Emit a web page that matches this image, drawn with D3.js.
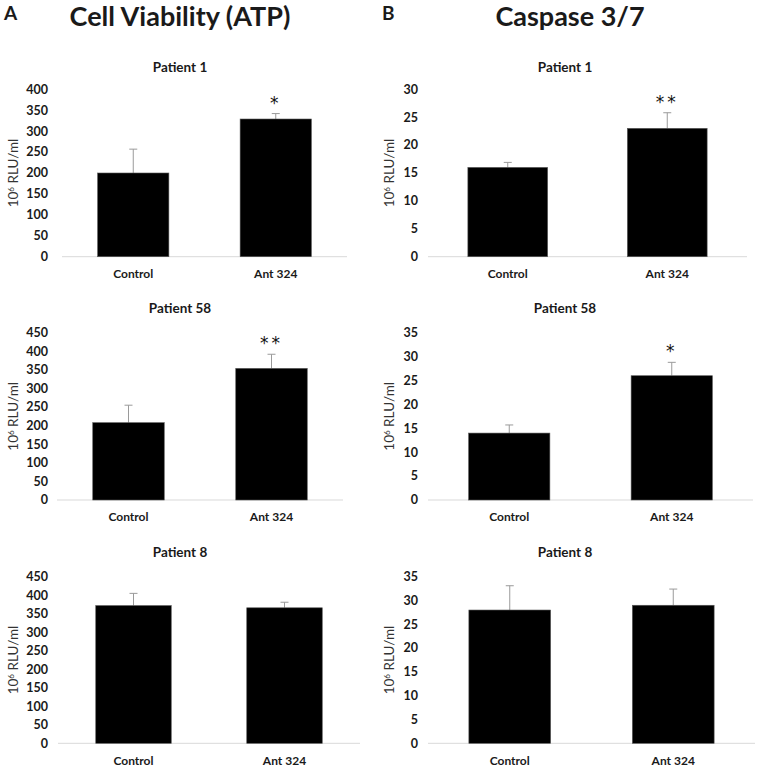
<!DOCTYPE html>
<html><head><meta charset="utf-8">
<script src="https://cdn.jsdelivr.net/npm/d3@7"></script>
<style>body{margin:0;background:#fff}svg{display:block}text{font-family:Lato,"Open Sans",sans-serif;fill:#1a1a1a}</style>
</head><body>
<svg id="c" width="770" height="767"></svg>
<script>
// ---- data ----
const categories = ["Control", "Ant 324"];
const patients = ["Patient 1", "Patient 58", "Patient 8"];
const atpMeans = [[200, 329], [208, 354], [372, 366]];
const atpErrors = [[57, 13], [47, 38], [33, 15]];
const atpStars = [["", "*"], ["", "**"], ["", ""]];
const atpMax = [400, 450, 450];
const atpStep = 50;
const caspMeans = [[16, 23], [14, 26], [28, 29]];
const caspErrors = [[0.9, 2.8], [1.7, 2.8], [5.1, 3.4]];
const caspStars = [["", "**"], ["", "*"], ["", ""]];
const caspMax = [30, 35, 35];
const caspStep = 5;
const columnTitles = ["Cell Viability (ATP)", "Caspase 3/7"];
const columnLetters = ["A", "B"];

// ---- layout ----
const svg = d3.select("#c");
const colLayout = [
  {letterX: 4, titleX: 180, titleCx: 180, tickRight: 48, ylabX: 13,
   plots: [{x0: 62, x1: 347}, {x0: 57, x1: 343}, {x0: 58, x1: 360}]},
  {letterX: 382, titleX: 570, titleCx: 565, tickRight: 418, ylabX: 389,
   plots: [{x0: 428, x1: 747}, {x0: 428, x1: 753}, {x0: 428, x1: 755}]}
];
const rowLayout = [
  {y0: 256.7, y1: 89.3, titleY: 72, catY: 278},
  {y0: 500, y1: 332.7, titleY: 313, catY: 521},
  {y0: 743.3, y1: 576.7, titleY: 557, catY: 765}
];
const columns = [
  {means: atpMeans, errors: atpErrors, stars: atpStars, max: atpMax, step: atpStep},
  {means: caspMeans, errors: caspErrors, stars: caspStars, max: caspMax, step: caspStep}
];

columns.forEach((col, ci) => {
  const L = colLayout[ci];
  svg.append("text").attr("x", L.letterX).attr("y", 20)
    .attr("font-size", 19).attr("font-weight", 700).text(columnLetters[ci]);
  svg.append("text").attr("x", L.titleX).attr("y", 26).attr("text-anchor", "middle")
    .attr("font-size", 27).attr("font-weight", 700).text(columnTitles[ci]);

  patients.forEach((p, ri) => {
    const R = rowLayout[ri], P = L.plots[ri];
    const g = svg.append("g");
    const x = d3.scaleBand().domain(categories).range([P.x0, P.x1])
      .paddingInner(0.5).paddingOuter(0.25);
    const y = d3.scaleLinear().domain([0, col.max[ri]]).range([R.y0, R.y1]);
    const ticks = d3.range(0, col.max[ri] + col.step / 2, col.step);

    g.append("text").attr("x", L.titleCx).attr("y", R.titleY).attr("text-anchor", "middle")
      .attr("font-size", 13.5).attr("font-weight", 700).text(p);

    // y tick labels
    g.selectAll(".yt").data(ticks).join("text")
      .attr("x", L.tickRight).attr("y", d => y(d)).attr("dy", "0.35em")
      .attr("text-anchor", "end").attr("font-size", 12.5).attr("font-weight", 700)
      .text(d => d);

    // y label
    const cy = (R.y0 + R.y1) / 2;
    const yl = g.append("text").attr("transform", `translate(${L.ylabX},${cy}) rotate(-90)`)
      .attr("text-anchor", "middle").attr("font-size", 13.5).attr("dy", "0.35em")
      .style("fill", "#333");
    yl.append("tspan").text("10");
    yl.append("tspan").attr("font-size", 8).attr("dy", "-0.5em").text("6");
    yl.append("tspan").attr("dy", "0.33em").text(" RLU/ml");

    // baseline axis
    g.append("line").attr("x1", P.x0).attr("x2", P.x1).attr("y1", y(0)).attr("y2", y(0))
      .attr("stroke", "#d9d9d9").attr("stroke-width", 1);

    const data = categories.map((c, i) => ({c, m: col.means[ri][i], e: col.errors[ri][i], s: col.stars[ri][i]}));

    // error bars (upper)
    data.forEach(d => {
      const cx = x(d.c) + x.bandwidth() / 2;
      g.append("line").attr("x1", cx).attr("x2", cx).attr("y1", y(d.m)).attr("y2", y(d.m + d.e))
        .attr("stroke", "#9a9a9a").attr("stroke-width", 1);
      g.append("line").attr("x1", cx - 4).attr("x2", cx + 4).attr("y1", y(d.m + d.e)).attr("y2", y(d.m + d.e))
        .attr("stroke", "#9a9a9a").attr("stroke-width", 1);
    });

    g.selectAll(".bar").data(data).join("rect")
      .attr("x", d => x(d.c)).attr("width", x.bandwidth())
      .attr("y", d => y(d.m)).attr("height", d => y(0) - y(d.m))
      .attr("fill", "#000").attr("stroke", "#555").attr("stroke-width", 0.6);

    g.selectAll(".star").data(data.filter(d => d.s)).join("text")
      .attr("x", d => x(d.c) + x.bandwidth() / 2).attr("y", d => y(d.m + d.e) - 5)
      .attr("text-anchor", "middle").attr("font-size", 17).attr("letter-spacing", 3)
      .style("font-family", "'DejaVu Sans', sans-serif").style("fill", "#111")
      .text(d => d.s);

    g.selectAll(".cat").data(categories).join("text")
      .attr("x", d => x(d) + x.bandwidth() / 2).attr("y", R.catY)
      .attr("text-anchor", "middle").attr("font-size", 12).attr("font-weight", 700)
      .text(d => d);
  });
});
</script>
</body></html>
